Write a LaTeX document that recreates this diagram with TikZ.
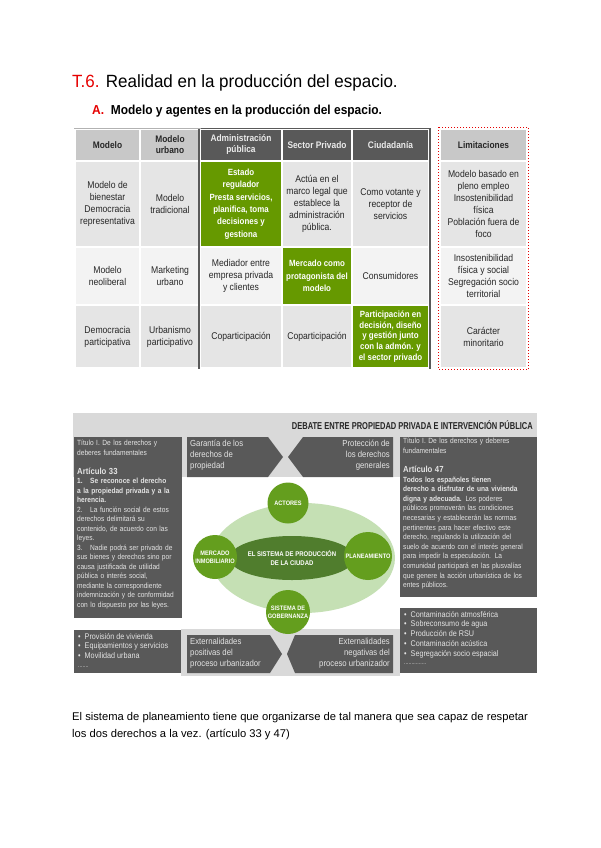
\documentclass[tikz,border=0pt]{standalone}
\usetikzlibrary{shapes.geometric}
\usepackage{fontspec}
\setmainfont{Liberation Sans}
\newfontfamily\nar[FakeStretch=0.88]{Liberation Sans}
\newfontfamily\narr[FakeStretch=0.75]{Liberation Sans}
\newfontfamily\subf[FakeStretch=0.92]{Liberation Sans}
\newfontfamily\titf[FakeStretch=0.96]{Liberation Sans}
\definecolor{tred}{RGB}{230,0,0}
\definecolor{hdlight}{RGB}{200,200,200}
\definecolor{hddark}{RGB}{89,89,89}
\definecolor{rowA}{RGB}{229,229,229}
\definecolor{rowB}{RGB}{243,243,243}
\definecolor{tgreen}{RGB}{102,153,0}
\definecolor{band}{RGB}{217,217,217}
\definecolor{boxdark}{RGB}{89,89,89}
\definecolor{boxtext}{RGB}{228,228,228}
\definecolor{lgreen}{RGB}{197,224,180}
\definecolor{mgreen}{RGB}{100,158,30}
\definecolor{dgreen}{RGB}{80,125,45}
\begin{document}
\begin{tikzpicture}[x=1pt,y=-1pt,
  cell/.style={draw=white, line width=1.2pt, inner sep=0pt, align=center, text=black!85,
    font=\nar\fontsize{9.8}{12}\selectfont},
  hcell/.style={cell, font=\nar\bfseries\fontsize{9.5}{11}\selectfont},
  gcell/.style={cell, fill=tgreen, text=white, font=\nar\bfseries\fontsize{9}{12.3}\selectfont},
  boxtxt/.style={inner sep=0pt, align=left, text=boxtext},
  arrowbox/.style={fill=boxdark},
  circ/.style={circle, fill=mgreen, inner sep=0pt, text=white, align=center,
    font=\nar\bfseries\fontsize{6.4}{8}\selectfont}
]
\useasboundingbox (0,0) rectangle (600,848);
\fill[white] (0,0) rectangle (600,848);

% titles
\node[anchor=base west, inner sep=0pt, font=\titf\fontsize{17.7}{20}\selectfont] (title) at (72,88)
  {{\color{tred}T.6.} Realidad en la producción del espacio.};
\node[anchor=base west, inner sep=0pt, font=\subf\bfseries\fontsize{13}{14}\selectfont] (subtitle) at (92,115)
  {{\color{tred}A.}\ \ Modelo y agentes en la producción del espacio.};

% header row
\node[hcell, fill=hdlight, minimum width=65pt, minimum height=32pt] (h1) at (107.5,145) {Modelo};
\node[hcell, fill=hdlight, minimum width=60pt, minimum height=32pt] (h2) at (170,145) {Modelo\\urbano};
\node[hcell, fill=hddark, text=white!92!black, minimum width=82pt, minimum height=32pt] (h3) at (241,145) {Administración\\pública};
\node[hcell, fill=hddark, text=white!92!black, minimum width=70pt, minimum height=32pt] (h4) at (317,145) {Sector Privado};
\node[hcell, fill=hddark, text=white!92!black, minimum width=77pt, minimum height=32pt] (h5) at (390.5,145) {Ciudadanía};
\node[hcell, fill=hdlight, minimum width=87pt, minimum height=32pt] (hL) at (483.5,145) {Limitaciones};

% row 1
\node[cell, fill=rowA, minimum width=65pt, minimum height=86pt] (r1c1) at (107.5,204) {Modelo de\\bienestar\\Democracia\\representativa};
\node[cell, fill=rowA, minimum width=60pt, minimum height=86pt] (r1c2) at (170,204) {Modelo\\tradicional};
\node[gcell, minimum width=82pt, minimum height=86pt] (r1c3) at (241,204) {Estado\\regulador\\Presta servicios,\\planifica, toma\\decisiones y\\gestiona};
\node[cell, fill=rowA, minimum width=70pt, minimum height=86pt] (r1c4) at (317,204) {Actúa en el\\marco legal que\\establece la\\administración\\pública.};
\node[cell, fill=rowA, minimum width=77pt, minimum height=86pt] (r1c5) at (390.5,204) {Como votante y\\receptor de\\servicios};
\node[cell, fill=rowA, minimum width=87pt, minimum height=86pt] (r1L) at (483.5,204) {Modelo basado en\\pleno empleo\\Insostenibilidad\\física\\Población fuera de\\foco};

% row 2
\node[cell, fill=rowB, minimum width=65pt, minimum height=58pt] (r2c1) at (107.5,276) {Modelo\\neoliberal};
\node[cell, fill=rowB, minimum width=60pt, minimum height=58pt] (r2c2) at (170,276) {Marketing\\urbano};
\node[cell, fill=rowB, minimum width=82pt, minimum height=58pt] (r2c3) at (241,276) {Mediador entre\\empresa privada\\y clientes};
\node[gcell, minimum width=70pt, minimum height=58pt] (r2c4) at (317,276) {Mercado como\\protagonista del\\modelo};
\node[cell, fill=rowB, minimum width=77pt, minimum height=58pt] (r2c5) at (390.5,276) {Consumidores};
\node[cell, fill=rowB, minimum width=87pt, minimum height=58pt] (r2L) at (483.5,276) {Insostenibilidad\\física y social\\Segregación socio\\territorial};

% row 3
\node[cell, fill=rowA, minimum width=65pt, minimum height=63pt] (r3c1) at (107.5,336.5) {Democracia\\participativa};
\node[cell, fill=rowA, minimum width=60pt, minimum height=63pt] (r3c2) at (170,336.5) {Urbanismo\\participativo};
\node[cell, fill=rowA, minimum width=82pt, minimum height=63pt] (r3c3) at (241,336.5) {Coparticipación};
\node[cell, fill=rowA, minimum width=70pt, minimum height=63pt] (r3c4) at (317,336.5) {Coparticipación};
\node[gcell, font=\nar\bfseries\fontsize{9}{10.6}\selectfont, minimum width=77pt, minimum height=63pt] (r3c5) at (390.5,336.5) {Participación en\\decisión, diseño\\y gestión junto\\con la admón. y\\el sector privado};
\node[cell, fill=rowA, minimum width=87pt, minimum height=63pt] (r3L) at (483.5,336.5) {Carácter\\minoritario};

% dark frame lines
\draw[hddark, line width=2pt] (h3.north west) -- (r3c3.south west);
\draw[hddark, line width=2pt] (h5.north east) -- (r3c5.south east);
\draw[hddark, line width=1.5pt] (h3.north west) -- (h5.north east);
\draw[gray!60, line width=1pt] (h1.north west) -- (h2.north east);
\draw[tred, dotted, line width=1pt] ([shift={(-1,-1)}]hL.north west) rectangle ([shift={(1,1)}]r3L.south east);

% ---------- second figure ----------
\fill[band] (73,413) rectangle (537,477);
\node[anchor=base east, inner sep=0pt, text=black!85, font=\narr\bfseries\fontsize{10}{11}\selectfont] (debate) at (533,429)
  {DEBATE ENTRE PROPIEDAD PRIVADA E INTERVENCIÓN PÚBLICA};
\fill[band] (181,629) rectangle (400,676);

% left article box
\fill[boxdark] (74,437) rectangle (182,618);
\node[boxtxt, anchor=north west, text width=105pt, font=\nar\fontsize{7.5}{9.5}\selectfont] (art33) at (77,440)
 {Título I. De los derechos y\\deberes fundamentales\\[9.5pt]
  {\bfseries\fontsize{8.8}{9.5}\selectfont Artículo 33}\\
  \bfseries 1.\quad Se reconoce el derecho\\a la propiedad privada y a la\\herencia.\\
  \mdseries 2.\quad La función social de estos\\derechos delimitará su\\contenido, de acuerdo con las\\leyes.\\
  3.\quad Nadie podrá ser privado de\\sus bienes y derechos sino por\\causa justificada de utilidad\\pública o interés social,\\mediante la correspondiente\\indemnización y de conformidad\\con lo dispuesto por las leyes.};

% right article box
\fill[boxdark] (400,437) rectangle (537,597);
\node[boxtxt, anchor=north west, text width=134pt, font=\nar\fontsize{7.5}{9.6}\selectfont] (art47) at (403,438)
 {Título I. De los derechos y deberes\\fundamentales\\[9.5pt]
  {\bfseries\fontsize{8.8}{9.6}\selectfont Artículo 47}\\
  \bfseries Todos los españoles tienen\\derecho a disfrutar de una vivienda\\digna y adecuada. \mdseries Los poderes\\
  públicos promoverán las condiciones\\necesarias y establecerán las normas\\pertinentes para hacer efectivo este\\
  derecho, regulando la utilización del\\suelo de acuerdo con el interés general\\para impedir la especulación. La\\
  comunidad participará en las plusvalías\\que genere la acción urbanística de los\\entes públicos.};

% bottom boxes
\fill[boxdark] (74,630) rectangle (181,673);
\node[boxtxt, anchor=north west, font=\nar\fontsize{8.2}{9.7}\selectfont] (lista1) at (78,633)
 {\textbullet\ \ Provisión de vivienda\\\textbullet\ \ Equipamientos y servicios\\\textbullet\ \ Movilidad urbana\\[-1pt]{\fontsize{6}{6}\selectfont .......}};
\fill[boxdark] (400,608) rectangle (537,673);
\node[boxtxt, anchor=north west, font=\nar\fontsize{8.2}{9.7}\selectfont] (lista2) at (404,611)
 {\textbullet\ \ Contaminación atmosférica\\\textbullet\ \ Sobreconsumo de agua\\\textbullet\ \ Producción de RSU\\\textbullet\ \ Contaminación acústica\\\textbullet\ \ Segregación socio espacial\\[-1pt]{\fontsize{6}{6}\selectfont ...............}};

% arrow boxes
\fill[arrowbox] (187,437) -- (268,437) -- (283,457) -- (268,477) -- (187,477) -- cycle;
\node[boxtxt, anchor=north west, font=\nar\fontsize{8.8}{11}\selectfont] (garantia) at (190,440) {Garantía de los\\derechos de\\propiedad};
\fill[arrowbox] (303,437) -- (393,437) -- (393,477) -- (303,477) -- (288,457) -- cycle;
\node[boxtxt, anchor=north east, align=right, font=\nar\fontsize{8.8}{11}\selectfont] (proteccion) at (390,440) {Protección de\\los derechos\\generales};
\fill[arrowbox] (187,635) -- (270,635) -- (282,654) -- (270,673) -- (187,673) -- cycle;
\node[boxtxt, anchor=north west, font=\nar\fontsize{8.8}{11}\selectfont] (extpos) at (190,638) {Externalidades\\positivas del\\proceso urbanizador};
\fill[arrowbox] (295,635) -- (393,635) -- (393,673) -- (295,673) -- (287,654) -- cycle;
\node[boxtxt, anchor=north east, align=right, font=\nar\fontsize{8.8}{11}\selectfont] (extneg) at (390,638) {Externalidades\\negativas del\\proceso urbanizador};

% ellipse system
\fill[lgreen] (303,558) ellipse [x radius=92, y radius=55];
\node[ellipse, fill=dgreen, minimum width=92pt, minimum height=44pt, inner sep=0pt, text=white, align=center,
  font=\nar\bfseries\fontsize{6.8}{8.8}\selectfont] (sistema) at (292,558) {EL SISTEMA DE PRODUCCIÓN\\DE LA CIUDAD};
\node[circ, minimum size=41pt] (actores) at (288,503) {ACTORES};
\node[circ, minimum size=44pt] (mercado) at (215,557) {MERCADO\\INMOBILIARIO};
\node[circ, minimum size=48pt] (planea) at (368,556) {PLANEAMIENTO};
\node[circ, minimum size=44pt] (gober) at (288,612) {SISTEMA DE\\GOBERNANZA};

% closing text
\node[anchor=base west, inner sep=0pt, font=\fontsize{11.2}{14}\selectfont] (p1) at (72,720)
  {El sistema de planeamiento tiene que organizarse de tal manera que sea capaz de respetar};
\node[anchor=base west, inner sep=0pt, font=\fontsize{11.2}{14}\selectfont] (p2) at (72,737)
  {los dos derechos a la vez. (artículo 33 y 47)};
\end{tikzpicture}
\end{document}
